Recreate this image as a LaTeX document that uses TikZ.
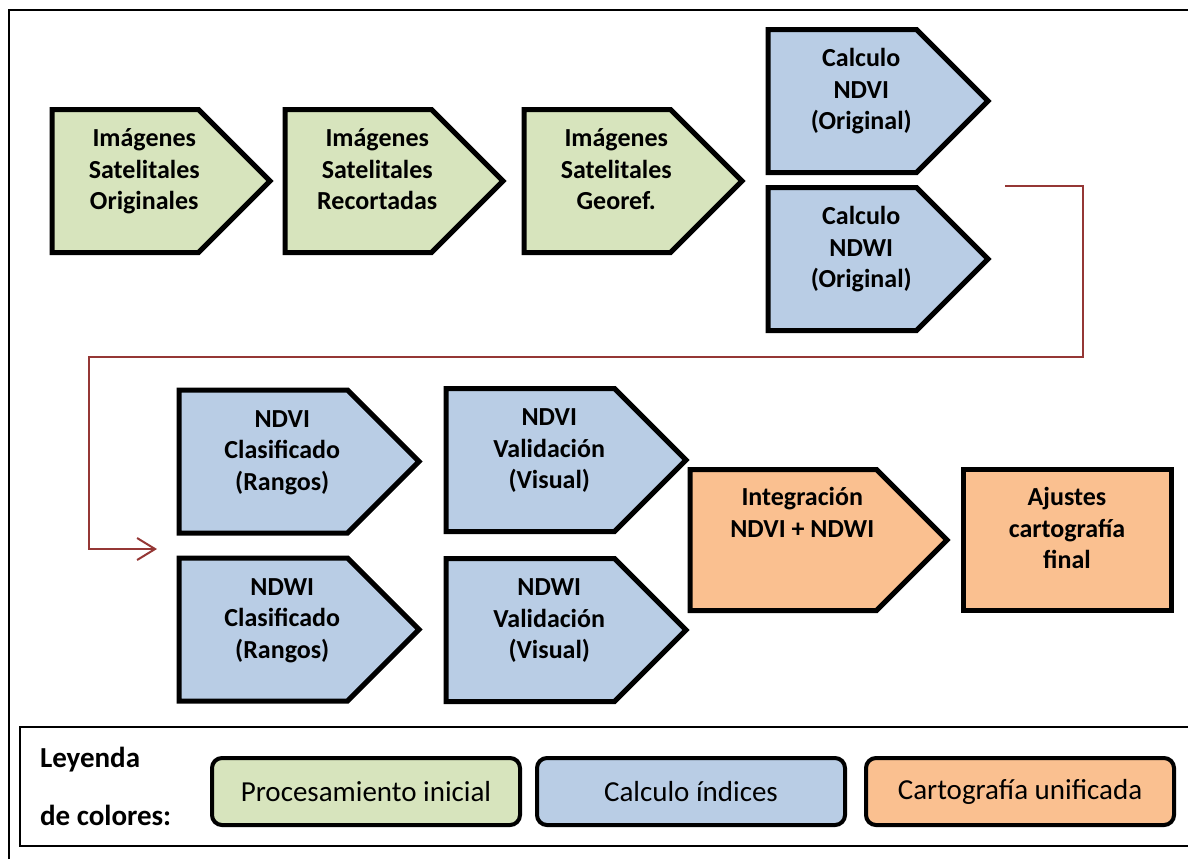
\documentclass[tikz,border=0pt]{standalone}
\usepackage{fontspec}
\setmainfont{Carlito}
\usetikzlibrary{positioning}
\usetikzlibrary{shapes.symbols}
\usetikzlibrary{arrows.meta}
\definecolor{verdeclaro}{HTML}{D7E4BD}
\definecolor{azulclaro}{HTML}{B9CDE5}
\definecolor{naranjaclaro}{HTML}{FAC090}
\definecolor{rojooscuro}{HTML}{953735}
\newcommand{\pasotexto}[2][19pt]{\hspace*{#1}\makebox[0pt]{\parbox[c][54.5pt][t]{100pt}{\centering\rule{0pt}{10pt}#2}}}

\begin{document}
\begin{tikzpicture}[x=0.5pt,y=-0.5pt,on grid,
		paso/.style={signal,signal to=east,signal pointer angle=90,draw=black,line width=2.5pt,
			minimum height=71.5pt,inner sep=0pt,anchor=west,font=\fontsize{13}{15.8}\selectfont\bfseries},
		verde/.style={paso,fill=verdeclaro,minimum width=109pt},
		azul/.style={paso,fill=azulclaro},
		naranja/.style={paso,fill=naranjaclaro},
		leyenda/.style={rectangle,rounded corners=5pt,draw=black,line width=2pt,minimum width=154pt,
			minimum height=33.5pt,font=\fontsize{14.5}{17}\selectfont},
		conector/.style={draw=rojooscuro,line width=1pt,-{Straight Barb[length=9pt,width=11pt]}}]
		\useasboundingbox (0,0) rectangle (1188,859);
		
		% marco
		\draw[line width=1.2pt] (9,859) -- (9,10) -- (1188,10);
		\draw[line width=0.6pt] (1188,727) -- (20,727) -- (20,846) -- (1188,846);
		
		\node[verde]  (orig)  at (49.5,181)  {\pasotexto{Imágenes\\Satelitales\\Originales}};
		\node[verde]  (recor) at (282.5,181) {\pasotexto{Imágenes\\Satelitales\\Recortadas}};
		\node[verde]  (geo)   at (521.5,181) {\pasotexto{Imágenes\\Satelitales\\Georef.}};
		\node[azul,minimum width=110pt] (calcndvi) at (765.5,101) {\pasotexto{Calculo\\NDVI\\(Original)}};
		\node[azul,minimum width=110pt] (calcndwi) at (765.5,259) {\pasotexto{Calculo\\NDWI\\(Original)}};
		
		\node[azul,minimum width=120pt] (clasndvi) at (176.5,461.5) {\pasotexto{NDVI\\Clasificado\\(Rangos)}};
		\node[azul,minimum width=120pt] (clasndwi) at (176.5,629.5) {\pasotexto{NDWI\\Clasificado\\(Rangos)}};
		\node[azul,minimum width=120pt] (valndvi)  at (443.5,460)   {\pasotexto{NDVI\\Validación\\(Visual)}};
		\node[azul,minimum width=120pt] (valndwi)  at (443.5,630)   {\pasotexto{NDWI\\Validación\\(Visual)}};
		\node[naranja,minimum width=128.5pt,minimum height=70.5pt] (integ) at (687.5,540) {\pasotexto{Integración\\NDVI + NDWI}};
		\node[paso,shape=rectangle,fill=naranjaclaro,minimum width=104pt,minimum height=70.5pt] (ajust) at (960.5,540) {\pasotexto[0pt]{Ajustes\\cartografía\\final}};
		
		% flecha de la primera fila a la segunda
		\coordinate (rojoini) at (1005,186);
		\coordinate (codo1)   at (1083,357);
		\coordinate (codo2)   at (89,549);
		\coordinate (rojofin) at (157,549);
		\draw[conector] (rojoini) -| (codo1) -| (codo2) -- (rojofin);
		
		% leyenda
		\node[anchor=west,align=left,font=\fontsize{14.5}{29}\selectfont\bfseries] (titley) at (33,786) {Leyenda\\de colores:};
		\node[leyenda,fill=verdeclaro]  (leyini)  at (366,791.5)  {Procesamiento inicial};
		\node[leyenda,fill=azulclaro]   (leyind)  [right=162.5pt of leyini] {Calculo índices};
		\node[leyenda,fill=naranjaclaro] (leycart) [right=164.5pt of leyind] {Cartografía unificada};
\end{tikzpicture}
\end{document}
